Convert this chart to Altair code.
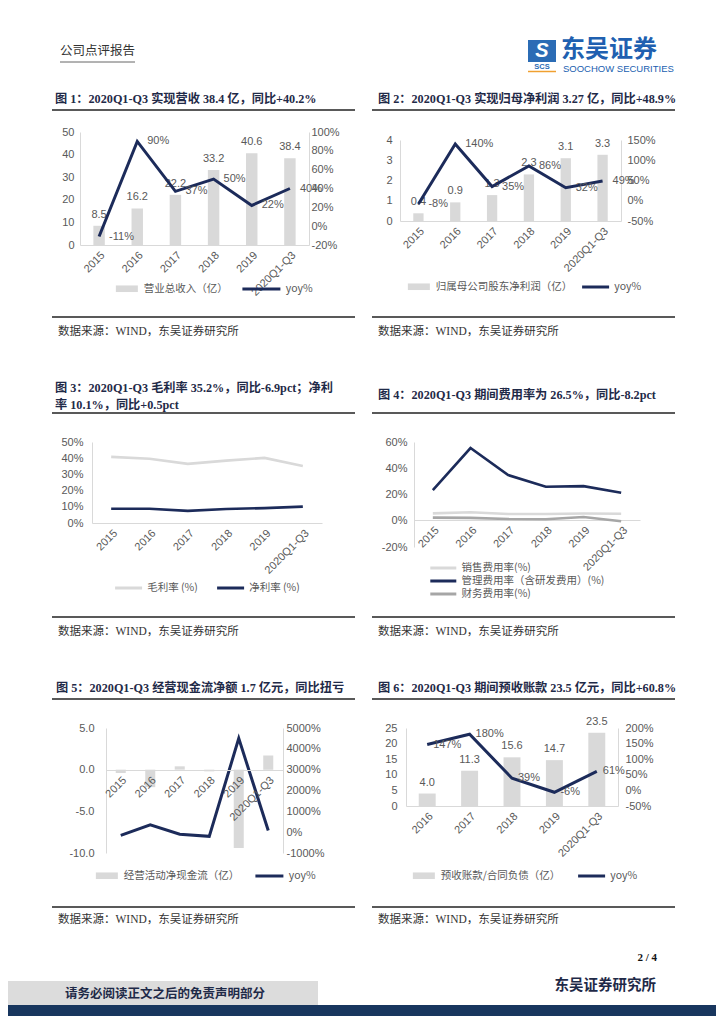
import math
import altair as alt
import pandas as pd

# ---------------- data ----------------
cats = ['2015', '2016', '2017', '2018', '2019', '2020Q1-Q3']
rev = [8.5, 16.2, 22.2, 33.2, 40.6, 38.4]
rev_yoy = [-11, 90, 37, 50, 22, 40]
np_vals = [0.38, 0.92, 1.28, 2.3, 3.1, 3.27]
np_yoy = [-8, 140, 35, 86, 32, 49]
gross = [40.8, 39.7, 36.5, 38.5, 40.2, 35.2]
net = [8.8, 8.8, 7.5, 8.6, 9.2, 10.1]
sell = [5.6, 6.5, 5.2, 5.1, 5.5, 5.3]
mgmt = [23.4, 55.4, 34.8, 25.9, 26.4, 21.3]
fin = [2.4, 2.2, 1.3, 1.2, 2.8, -0.4]
ocf = [-0.4, -2.1, 0.4, -0.2, -9.4, 1.7]
ocf_yoy = [-150, 350, -100, -200, 4500, 80]
cats6 = ['2016', '2017', '2018', '2019', '2020Q1-Q3']
adv = [4.0, 11.3, 15.6, 14.7, 23.5]
adv_yoy = [147, 180, 39, -6, 61]

# ---------------- style ----------------
W, H = 708, 1008
NAVY = '#1c2b5a'
GRAY = '#d9d9d9'
MID = '#a6a6a6'
TXT = '#595959'
TITLE = '#1f2a48'
SANS = "'Liberation Sans Narrow', 'Liberation Sans', Arial, 'Noto Sans CJK SC'"
SERIF = "'Liberation Serif', 'Noto Sans CJK SC'"
CJK = "'Noto Sans CJK SC'"
# symbols drawn to the right of their anchor, length = 2.5 * sqrt(size)
BARSYM = 'M-1,-0.75H4V0.75H-1Z'
LINESYM = 'M-1,0H4'


def P(v):
    return v - 8


one = pd.DataFrame({'k': [0]})


def yaxis(orient, xpos, values, expr=None, pad=5):
    off = -P(xpos) if orient == 'left' else P(xpos) - W
    kw = dict(orient=orient, offset=off, values=values, title=None, grid=False,
              ticks=False, domain=True, domainColor=GRAY, labelFont=SANS,
              labelFontSize=11, labelColor=TXT, labelPadding=pad)
    if expr:
        kw['labelExpr'] = expr
    return alt.Axis(**kw)


def xaxis(ypos, z=0):
    return alt.Axis(orient='bottom', offset=P(ypos) - H, title=None, labelAngle=-45,
                    grid=False, ticks=False, domainColor=GRAY, labelFont=SANS,
                    labelFontSize=11, labelColor=TXT, labelPadding=4, zindex=z)


def legend(x, yc, sym, length, sw, direction='horizontal', colpad=10, rowpad=1):
    root = length / 2.5
    h = max(math.ceil(root + sw), 11)
    return alt.Legend(orient='none', legendX=P(x) - sw / 2, legendY=P(yc) - h / 2, title=None,
                      direction=direction, symbolType=sym, symbolSize=root ** 2,
                      symbolStrokeWidth=sw, labelFont=CJK, labelFontSize=10.5,
                      labelColor=TXT, labelOffset=1.5 * root + 5 - sw / 2,
                      columnPadding=colpad, rowPadding=rowpad)


def combo(cs, bars, yoy, bname, xr, yr, ldom, lvals, rdom, rvals, pad, axis_y,
          legb, legl, llen, lpad, rpad, lexpr=None, xz=0, labels=True, ldx=10):
    df = pd.DataFrame({'cat': cs, 'v': bars, 'yoy': yoy, 'i': list(range(len(cs)))})
    df['bs'] = bname
    df['ls'] = 'yoy%'
    df['vl'] = [f'{b:.1f}' for b in bars]
    df['yl'] = [f'{y}%' for y in yoy]
    x0, x1 = P(xr[0]), P(xr[1])
    yt, yb = P(yr[0]), P(yr[1])
    xband = alt.X('cat:N', sort=cs, scale=alt.Scale(type='band', domain=cs, range=[x0, x1],
                                                    paddingInner=pad, paddingOuter=pad / 2),
                  axis=xaxis(axis_y, xz))
    xpt = alt.X('cat:N', sort=cs, scale=alt.Scale(type='point', domain=cs, range=[x0, x1],
                                                  padding=0.5), axis=None)
    ls = alt.Scale(domain=ldom, range=[yb, yt], nice=False)
    rs = alt.Scale(domain=rdom, range=[yb, yt], nice=False)
    base = alt.Chart(df)
    out = []
    out.append(base.mark_bar().encode(
        x=xband,
        y=alt.Y('v:Q', scale=ls, axis=yaxis('left', xr[0], lvals, lexpr, lpad)),
        fill=alt.Fill('bs:N', scale=alt.Scale(domain=[bname], range=[GRAY]),
                      legend=legend(legb[0], legb[1], BARSYM, 22, 0))))
    if labels:
        out.append(base.mark_text(align='center', baseline='bottom', dy=-6, font=SANS,
                                  fontSize=11, color=TXT).encode(
            x=xpt, y=alt.Y('v:Q', scale=ls, axis=None), text='vl:N'))
    out.append(base.mark_line(strokeWidth=3).encode(
        x=xpt,
        y=alt.Y('yoy:Q', scale=rs, axis=yaxis('right', xr[1], rvals, "datum.value + '%'", rpad)),
        stroke=alt.Stroke('ls:N', scale=alt.Scale(domain=['yoy%'], range=[NAVY]),
                          legend=legend(legl[0], legl[1], LINESYM, llen, 3)),
        order='i:Q'))
    if labels:
        out.append(base.mark_text(align='left', baseline='middle', dx=ldx, font=SANS,
                                  fontSize=11, color=TXT).encode(
            x=xpt, y=alt.Y('yoy:Q', scale=rs, axis=None), text='yl:N'))
    return out


def lines(cs, series, names, colors, xr, yr, dom, vals, axis_y, leg, direction, colpad,
          llen, lpad, rowpad=1):
    rows = []
    for s, name in zip(series, names):
        for i, (c, v) in enumerate(zip(cs, s)):
            rows.append({'cat': c, 'val': v, 's': name, 'i': i})
    df = pd.DataFrame(rows)
    x0, x1 = P(xr[0]), P(xr[1])
    yt, yb = P(yr[0]), P(yr[1])
    xpt = alt.X('cat:N', sort=cs, scale=alt.Scale(type='point', domain=cs, range=[x0, x1],
                                                  padding=0.5), axis=xaxis(axis_y))
    return [alt.Chart(df).mark_line(strokeWidth=2.6).encode(
        x=xpt,
        y=alt.Y('val:Q', scale=alt.Scale(domain=dom, range=[yb, yt], nice=False),
                axis=yaxis('left', xr[0], vals, "datum.value + '%'", lpad)),
        stroke=alt.Stroke('s:N', scale=alt.Scale(domain=names, range=colors),
                          legend=legend(leg[0], leg[1], LINESYM, llen, 3, direction, colpad,
                                        rowpad)),
        order='i:Q')]


def txt(s, x, y, size, color, font, weight='normal', align='left', style='normal'):
    return alt.Chart(one).mark_text(text=s, align=align, baseline='middle', font=font,
                                    fontSize=size, fontWeight=weight, color=color,
                                    fontStyle=style).encode(
        x=alt.value(P(x)), y=alt.value(P(y)))


def hrule(x0, x1, y, color, w):
    return alt.Chart(one).mark_rule(color=color, strokeWidth=w).encode(
        x=alt.value(P(x0)), x2=alt.value(P(x1)), y=alt.value(P(y)))


def box(x0, x1, y0, y1, color):
    return alt.Chart(one).mark_rect(color=color).encode(
        x=alt.value(P(x0)), x2=alt.value(P(x1)), y=alt.value(P(y0)), y2=alt.value(P(y1)))


layers = []

# ---------------- page decoration ----------------
layers += [
    txt('公司点评报告', 60, 51, 12.5, '#333333', CJK),
    hrule(60, 135, 62, '#666666', 1),
    box(528, 556, 40, 62, '#2b6cb5'),
    txt('S', 542, 51, 20, 'white', "'Liberation Sans'", 'bold', 'center', 'italic'),
    txt('SCS', 542, 67, 7.5, '#2b6cb5', "'Liberation Sans'", 'bold', 'center'),
    hrule(528, 556, 71.5, '#f0a030', 1.5),
    txt('东吴证券', 561, 50, 24, '#2060b0', CJK, 'bold'),
    txt('SOOCHOW SECURITIES', 563, 69, 9.5, '#2060b0', "'Liberation Sans'"),
]

titles = [
    ('图 1：2020Q1-Q3 实现营收 38.4 亿，同比+40.2%', 55, 99),
    ('图 2：2020Q1-Q3 实现归母净利润 3.27 亿，同比+48.9%', 378, 99),
    ('图 3：2020Q1-Q3  毛利率 35.2%，同比-6.9pct；净利', 55, 388),
    ('率 10.1%，同比+0.5pct', 55, 405),
    ('图 4：2020Q1-Q3 期间费用率为 26.5%，同比-8.2pct', 378, 395),
    ('图 5：2020Q1-Q3 经营现金流净额 1.7 亿元，同比扭亏', 56, 688),
    ('图 6：2020Q1-Q3 期间预收账款 23.5 亿元，同比+60.8%', 378, 688),
]
for t, x, y in titles:
    layers.append(txt(t, x, y, 12.2, TITLE, SERIF, 'bold'))

for y in [110, 413, 699]:
    layers.append(hrule(52, 355, y, '#222222', 1.6))
    layers.append(hrule(372, 675, y, '#222222', 1.6))
for ry, ty in [(317, 332), (617, 632), (907, 920)]:
    layers.append(hrule(52, 355, ry, '#222222', 1.6))
    layers.append(hrule(372, 675, ry, '#222222', 1.6))
    layers.append(txt('数据来源：WIND，东吴证券研究所', 58, ty, 11.5, '#333333', SERIF))
    layers.append(txt('数据来源：WIND，东吴证券研究所', 378, ty, 11.5, '#333333', SERIF))

layers += [
    txt('2 / 4', 657, 958, 11, '#111111', SERIF, 'bold', 'right'),
    txt('东吴证券研究所', 656, 986, 14.5, TITLE, CJK, 'bold', 'right'),
    box(0, 318, 981, 1005, '#dcdcdc'),
    txt('请务必阅读正文之后的免责声明部分', 65, 994, 12.5, TITLE, CJK, 'bold'),
    box(0, 724, 1005, 1024, '#18365e'),
]

# ---------------- charts ----------------
layers += combo(cats, rev, rev_yoy, '营业总收入（亿）', (80, 309), (132, 245),
                [0, 50], [0, 10, 20, 30, 40, 50], [-20, 100], [-20, 0, 20, 40, 60, 80, 100],
                0.7, 245, (115, 289), (242, 289), 38, 6, 2)
layers += combo(cats, np_vals, np_yoy, '归属母公司股东净利润（亿）', (400, 621), (140, 221),
                [0, 4], [0, 1, 2, 3, 4], [-50, 150], [-50, 0, 50, 100, 150],
                0.72, 221, (407, 287), (582, 287), 27, 8, 6)
layers += lines(cats, [gross, net], ['毛利率 (%)', '净利率 (%)'], [GRAY, NAVY],
                (92, 322), (442, 523), [0, 50], [0, 10, 20, 30, 40, 50], 523,
                (115, 588), 'horizontal', 12, 27, 9)
layers += lines(cats, [sell, mgmt, fin],
                ['销售费用率(%)', '管理费用率（含研发费用）(%)', '财务费用率(%)'],
                [GRAY, NAVY, MID],
                (414, 640), (442, 547), [-20, 60], [-20, 0, 20, 40, 60], 520,
                (430, 568), 'vertical', 10, 26, 7, rowpad=-2)
layers += combo(cats, ocf, ocf_yoy, '经营活动净现金流（亿）', (106, 283), (728, 853),
                [-10, 5], [-10, -5, 0, 5], [-1000, 5000],
                [-1000, 0, 1000, 2000, 3000, 4000, 5000],
                0.66, 770, (95, 876), (255, 876), 28, 12, 3, lexpr="datum.value + '.0'", xz=1,
                labels=False)
layers += combo(cats6, adv, adv_yoy, '预收账款/合同负债（亿）', (406, 618), (728, 806),
                [0, 25], [0, 5, 10, 15, 20, 25], [-50, 200], [-50, 0, 50, 100, 150, 200],
                0.6, 806, (412, 876), (578, 876), 27, 9, 7, ldx=6)

chart = alt.layer(*layers).resolve_scale(
    x='independent', y='independent', fill='independent', stroke='independent'
).properties(
    width=W, height=H, padding=0, autosize=alt.AutoSizeParams(type='none')
).configure_view(stroke=None)

chart.save('out.html', embed_options={'renderer': 'svg', 'actions': False})
